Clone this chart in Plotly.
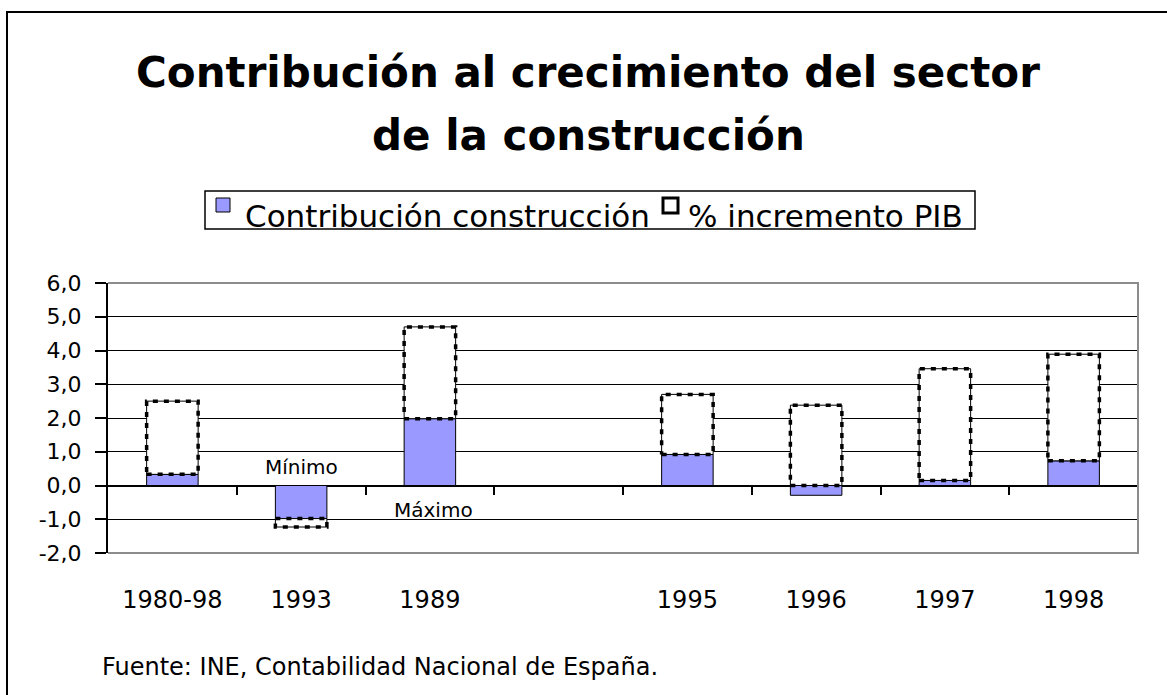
import plotly.graph_objects as go

categories = ["1980-98", "1993", "1989", "", "1995", "1996", "1997", "1998"]
contribucion = [0.33, -0.98, 1.98, None, 0.92, -0.29, 0.15, 0.73]
incremento_pib = [2.17, -0.25, 2.72, None, 1.78, 2.38, 3.31, 3.16]
ytick_vals = [-2, -1, 0, 1, 2, 3, 4, 5, 6]
ytick_text = ["-2,0", "-1,0", "0,0", "1,0", "2,0", "3,0", "4,0", "5,0", "6,0"]
series_names = ["Contribución construcción", "% incremento PIB"]

FONT = "DejaVu Sans"
BLUE = "#9999FF"
xs = list(range(len(categories)))
BW = 0.4

L, R, T, B = 108, 29, 283, 142
W, H = 1167, 695
PW, PH = W - L - R, H - T - B


def px(xp):
    return (xp - L) / PW


def py(yp):
    return (H - B - yp) / PH


fig = go.Figure()
fig.add_trace(go.Bar(
    x=xs, y=contribucion, name=series_names[0], width=BW,
    marker=dict(color=BLUE, line=dict(color="black", width=1)),
))
fig.add_trace(go.Bar(
    x=xs, y=incremento_pib, name=series_names[1], width=BW,
    marker=dict(color="white", line=dict(color="black", width=1)),
))

# dashed outline of the PIB segments, derived from the stacked data
ox, oy = [], []
for i, (c, p) in enumerate(zip(contribucion, incremento_pib)):
    if c is None or p is None:
        continue
    base = max(c, 0) if p >= 0 else min(c, 0)
    top = base + p
    x0, x1 = i - BW / 2, i + BW / 2
    ox += [x0, x1, x1, x0, x0, None]
    oy += [base, base, top, top, base, None]
fig.add_trace(go.Scatter(
    x=ox, y=oy, mode="lines", showlegend=False, hoverinfo="skip",
    line=dict(color="black", width=3.5, dash="5px,6px"),
))

# helper trace for the category-boundary ticks on the zero line
fig.add_trace(go.Scatter(x=[0], y=[None], xaxis="x2", yaxis="y",
                         showlegend=False, hoverinfo="skip", mode="lines"))

fig.update_layout(
    width=W, height=H, autosize=False,
    margin=dict(l=L, r=R, t=T, b=B),
    barmode="relative",
    paper_bgcolor="white", plot_bgcolor="white",
    font=dict(family=FONT, color="black", size=20),
    showlegend=False,
    xaxis=dict(
        range=[-0.5, len(categories) - 0.5],
        tickvals=xs, ticktext=categories,
        showgrid=False, zeroline=False, showline=False,
        ticks="", ticklabelstandoff=30,
        tickfont=dict(size=24, family=FONT, color="black"),
    ),
    xaxis2=dict(
        range=[-0.5, len(categories) - 0.5],
        overlaying="x", anchor="free", position=0.25, side="bottom",
        tickvals=[i + 0.5 for i in xs],
        ticks="outside", ticklen=8, tickcolor="black", tickwidth=1.5,
        showticklabels=False, showgrid=False, zeroline=False, showline=False,
    ),
    yaxis=dict(
        range=[-2, 6], tickvals=ytick_vals, ticktext=ytick_text,
        showgrid=True, gridcolor="black", gridwidth=1,
        zeroline=True, zerolinecolor="black", zerolinewidth=1.5,
        showline=True, linecolor="black", linewidth=2,
        ticks="outside", ticklen=11, tickcolor="black", tickwidth=1.5,
        ticklabelstandoff=9,
        tickfont=dict(size=22, family=FONT, color="black"),
    ),
)

shapes = [
    # grey plot border (top, right, bottom)
    dict(type="path", xref="paper", yref="paper",
         path="M 0 1 L 1 1 L 1 0 L 0 0",
         line=dict(color="#8c8c8c", width=2)),
    # outer chart frame
    dict(type="rect", xref="paper", yref="paper",
         x0=px(7), x1=px(1200), y0=py(720), y1=py(12),
         line=dict(color="black", width=2), fillcolor="rgba(0,0,0,0)"),
    # legend box
    dict(type="rect", xref="paper", yref="paper",
         x0=px(205), x1=px(975), y0=py(229), y1=py(191),
         line=dict(color="black", width=1.5), fillcolor="white"),
    # legend symbols
    dict(type="rect", xref="paper", yref="paper",
         x0=px(216), x1=px(230), y0=py(212), y1=py(198),
         line=dict(color="black", width=1), fillcolor=BLUE),
    dict(type="rect", xref="paper", yref="paper",
         x0=px(663), x1=px(678), y0=py(213), y1=py(198),
         line=dict(color="black", width=3), fillcolor="white"),
]
fig.update_layout(shapes=shapes)

annotations = [
    dict(text="<b>Contribución al crecimiento del sector</b>", x=px(588), y=py(72),
         xref="paper", yref="paper", showarrow=False, xanchor="center", yanchor="middle",
         font=dict(size=42, family=FONT, color="black")),
    dict(text="<b>de la construcción</b>", x=px(588), y=py(135),
         xref="paper", yref="paper", showarrow=False, xanchor="center", yanchor="middle",
         font=dict(size=42, family=FONT, color="black")),
    dict(text=series_names[0], x=px(243), y=py(216),
         xref="paper", yref="paper", showarrow=False, xanchor="left", yanchor="middle",
         font=dict(size=31, family=FONT, color="black")),
    dict(text=series_names[1], x=px(686), y=py(216),
         xref="paper", yref="paper", showarrow=False, xanchor="left", yanchor="middle",
         font=dict(size=31, family=FONT, color="black")),
    dict(text="Fuente: INE, Contabilidad Nacional de España.", x=px(100), y=py(667),
         xref="paper", yref="paper", showarrow=False, xanchor="left", yanchor="middle",
         font=dict(size=24, family=FONT, color="black")),
    dict(text="Mínimo", x=1, y=0.56, xref="x", yref="y", showarrow=False,
         xanchor="center", yanchor="middle", font=dict(size=20, family=FONT, color="black")),
    dict(text="Máximo", x=2.03, y=-0.735, xref="x", yref="y", showarrow=False,
         xanchor="center", yanchor="middle", font=dict(size=20, family=FONT, color="black")),
]
fig.update_layout(annotations=annotations)

fig.write_html("out.html", post_script="document.body.style.margin='0px';",
               config={"displayModeBar": False})
